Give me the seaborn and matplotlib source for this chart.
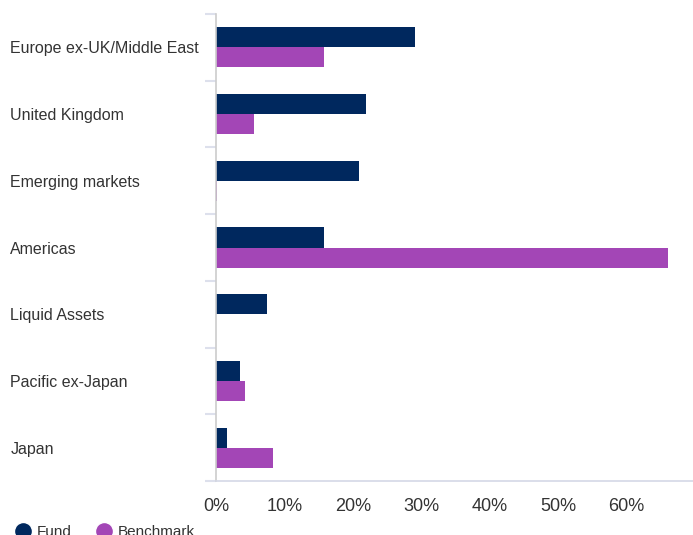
import pandas as pd
import numpy as np
import matplotlib
matplotlib.use("Agg")
import matplotlib.pyplot as plt
import seaborn as sns
from matplotlib.lines import Line2D
from matplotlib.ticker import MultipleLocator, FuncFormatter

regions = ["Europe ex-UK/Middle East", "United Kingdom", "Emerging markets",
           "Americas", "Liquid Assets", "Pacific ex-Japan", "Japan"]
fund = [29.1, 21.9, 20.9, 15.8, 7.4, 3.5, 1.6]
benchmark = [15.8, 5.5, 0.2, 66.0, 0.0, 4.2, 8.3]
series = ["Fund", "Benchmark"]
colors = ["#00285e", "#a346b6"]

df = pd.DataFrame({
    "region": regions * 2,
    "value": fund + benchmark,
    "series": [series[0]] * len(regions) + [series[1]] * len(regions),
})

sns.set_style("white")
plt.rcParams["font.family"] = ["Liberation Sans", "DejaVu Sans"]

fig = plt.figure(figsize=(6.93, 5.35), dpi=100)
ax = fig.add_axes([216 / 693, 1 - 481 / 535, 1 - 216 / 693, (481 - 14) / 535])

sns.barplot(data=df, x="value", y="region", hue="series", orient="h",
            palette=colors, width=0.6, saturation=1, linewidth=0, ax=ax, legend=False)

ax.set_xlim(0, 69.7)
ax.set_ylim(len(regions) - 0.5, -0.5)
ax.set_xlabel("")
ax.set_ylabel("")
ax.xaxis.set_major_locator(MultipleLocator(10))
ax.xaxis.set_major_formatter(FuncFormatter(lambda v, p: f"{v:.0f}%" if v <= 60 else ""))
ax.tick_params(axis="x", length=0, pad=12, labelsize=13, labelcolor="#333333")

# category labels left aligned at the figure edge
ax.tick_params(axis="y", which="major", length=0, pad=148, labelsize=11.5, labelcolor="#333333")
for lab in ax.get_yticklabels():
    lab.set_horizontalalignment("left")

# boundary ticks between categories
ax.set_yticks(np.arange(-0.5, len(regions)), minor=True)
ax.tick_params(axis="y", which="minor", left=True, length=8, width=1.5, color="#dde0ec")

for s in ["top", "right"]:
    ax.spines[s].set_visible(False)
ax.spines["left"].set_color("#cccccc")
ax.spines["bottom"].set_color("#d4d8e6")
ax.spines["left"].set_linewidth(1.2)
ax.spines["bottom"].set_linewidth(1.2)

handles = [Line2D([0], [0], marker="o", color="w", markerfacecolor=c, markersize=13)
           for c in colors]
fig.legend(handles, series, loc="lower left", bbox_to_anchor=(0.0, -0.034),
           ncol=2, frameon=False, fontsize=11, handletextpad=0.3,
           columnspacing=1.5, handlelength=1.2, labelcolor="#333333")

fig.savefig("out.png", dpi=100)
